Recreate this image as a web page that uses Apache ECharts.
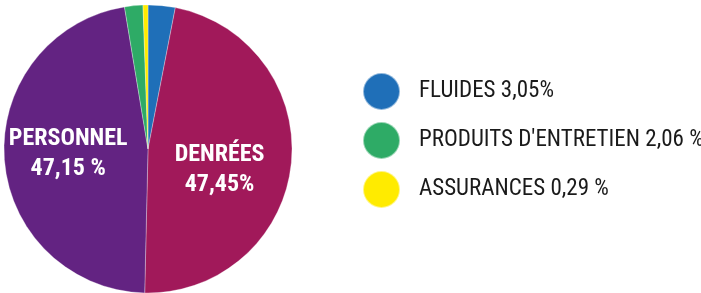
<!DOCTYPE html>
<html>
<head>
<meta charset="utf-8">
<script src="https://cdn.jsdelivr.net/npm/echarts@6/dist/echarts.min.js"></script>
<style>html,body{margin:0;padding:0;background:#fff;}#c{width:701px;height:293px;}</style>
</head>
<body>
<div id="c"></div>
<script>
var categories = ['FLUIDES', 'DENRÉES', 'PERSONNEL', "PRODUITS D'ENTRETIEN", 'ASSURANCES'];
var values = [3.05, 47.45, 47.15, 2.06, 0.29];
var valueTexts = ['3,05%', '47,45%', '47,15 %', '2,06 %', '0,29 %'];
var insideLabel = [false, true, true, false, false];
var legendItems = ['FLUIDES', "PRODUITS D'ENTRETIEN", 'ASSURANCES'];
var colors = ['#1f6fb8', '#a1195a', '#632382', '#2eab66', '#ffeb00'];

var FONT = "'Roboto Condensed', Roboto, sans-serif";
var chart = echarts.init(document.getElementById('c'));
var data = categories.map(function (c, i) {
  return {
    name: c, value: values[i],
    itemStyle: { color: colors[i] },
    label: { show: insideLabel[i] }
  };
});
chart.setOption({
  animation: false,
  legend: {
    orient: 'vertical',
    left: 357, top: 67,
    icon: 'circle',
    itemWidth: 37, itemHeight: 37, itemGap: 10,
    data: legendItems,
    formatter: function (n) {
      var i = categories.indexOf(n);
      return n + ' ' + valueTexts[i];
    },
    textStyle: { fontFamily: FONT, fontSize: 23, color: '#1a1a1a', padding: [0, 0, 0, 14] }
  },
  series: [{
    type: 'pie',
    center: [148, 149],
    radius: 144,
    startAngle: 90,
    clockwise: true,
    minAngle: 2,
    data: data,
    itemStyle: { borderColor: 'rgba(255,255,255,0.5)', borderWidth: 0.6 },
    label: {
      position: 'inside',
      color: '#fff',
      fontFamily: FONT,
      fontWeight: 'bold',
      fontSize: 24,
      lineHeight: 30,
      formatter: function (p) { return p.name + '\n' + valueTexts[p.dataIndex]; }
    },
    labelLayout: function (p) {
      return p.dataIndex === 1 ? { dy: 13, dx: -3 } : { dx: -5 };
    },
    labelLine: { show: false },
    emphasis: { disabled: true }
  }]
});
</script>
</body>
</html>
